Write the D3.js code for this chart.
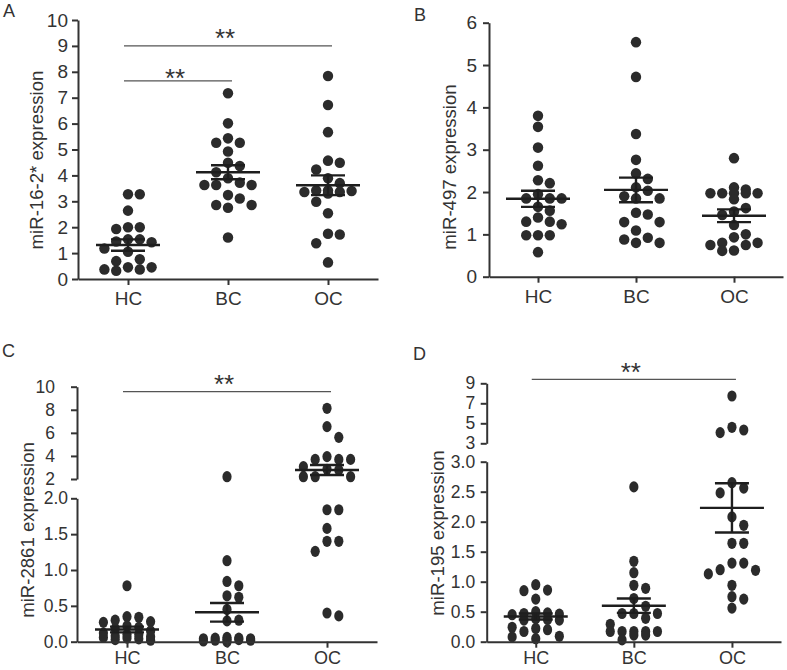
<!DOCTYPE html>
<html><head><meta charset="utf-8">
<script src="https://cdn.jsdelivr.net/npm/d3@7"></script>
<style>
body{margin:0;background:#fff}
text{font-family:"Liberation Sans",Arial,Helvetica,sans-serif}
</style>
</head><body>
<svg id="chart" width="787" height="670"></svg>
<script>
// ---------------- data ----------------
const groups = ["HC", "BC", "OC"];

// Panel A: miR-16-2*
const aHC = [3.27, 3.27, 2.64, 2.0, 2.0, 1.93, 1.53, 1.53, 1.45, 1.42, 1.18, 1.05, 0.76, 0.69, 0.45, 0.45, 0.37, 0.37, 0.32];
const aBC = [7.17, 6.01, 5.43, 5.26, 5.26, 4.92, 4.49, 4.36, 4.12, 3.89, 3.72, 3.63, 3.63, 3.63, 3.24, 3.11, 2.86, 2.86, 2.75, 1.60];
const aOC = [7.84, 6.72, 5.67, 4.57, 4.49, 4.23, 3.89, 3.70, 3.42, 3.42, 3.40, 3.36, 3.36, 3.30, 2.98, 2.54, 1.75, 1.72, 1.38, 0.64];
const aMean = [1.31, 4.12, 3.62];
const aSem = [0.22, 0.27, 0.38];
const aTicks = [0, 1, 2, 3, 4, 5, 6, 7, 8, 9, 10];
const aSig = [{from: "HC", to: "OC", level: 9.0, label: "**"}, {from: "HC", to: "BC", level: 7.65, label: "**"}];

// Panel B: miR-497
const bHC = [3.80, 3.54, 3.05, 2.62, 2.28, 2.21, 1.95, 1.85, 1.85, 1.85, 1.65, 1.56, 1.40, 1.30, 1.30, 1.24, 0.98, 0.98, 0.98, 0.58];
const bBC = [5.54, 4.72, 3.37, 2.76, 2.44, 2.31, 2.11, 2.03, 1.90, 1.85, 1.85, 1.51, 1.47, 1.29, 1.29, 1.09, 0.92, 0.88, 0.80, 0.80];
const bOC = [2.80, 2.11, 2.06, 1.97, 1.97, 1.97, 1.97, 1.97, 1.83, 1.62, 1.54, 1.46, 1.22, 1.00, 0.93, 0.80, 0.80, 0.75, 0.75, 0.62, 0.61];
const bMean = [1.84, 2.05, 1.44];
const bSem = [0.19, 0.29, 0.15];
const bTicks = [0, 1, 2, 3, 4, 5, 6];
const bSig = [];

// Panel C: miR-2861 (broken axis)
const cHC = [0.78, 0.35, 0.34, 0.30, 0.28, 0.27, 0.22, 0.20, 0.18, 0.15, 0.12, 0.10, 0.10, 0.08, 0.07, 0.06, 0.05, 0.04, 0.03, 0.02];
const cBC = [2.20, 1.13, 0.84, 0.78, 0.64, 0.62, 0.45, 0.30, 0.29, 0.06, 0.05, 0.05, 0.04, 0.04, 0.03, 0.03, 0.02, 0.02, 0.01, 0.0];
const cOC = [8.13, 6.54, 5.61, 3.94, 3.70, 3.70, 3.70, 3.07, 2.84, 2.78, 2.20, 2.20, 2.20, 1.84, 1.84, 1.58, 1.40, 1.40, 1.26, 0.40, 0.36];
const cMean = [0.17, 0.41, 2.78];
const cSem = [0.04, 0.13, 0.43];
const cLowerTicks = [0, 0.5, 1.0, 1.5, 2.0];
const cUpperTicks = [2, 4, 6, 8, 10];
const cSig = [{from: "HC", to: "OC", level: 9.57, label: "**"}];

// Panel D: miR-195 (broken axis)
const dHC = [0.95, 0.86, 0.85, 0.71, 0.50, 0.48, 0.47, 0.46, 0.45, 0.38, 0.37, 0.36, 0.36, 0.24, 0.22, 0.20, 0.17, 0.09, 0.08, 0.05];
const dBC = [2.58, 1.34, 1.15, 0.94, 0.89, 0.72, 0.59, 0.47, 0.47, 0.47, 0.39, 0.29, 0.17, 0.17, 0.17, 0.17, 0.17, 0.11, 0.11, 0.03];
const dOC = [7.73, 4.60, 4.33, 4.07, 2.65, 2.56, 2.48, 2.08, 1.94, 1.64, 1.64, 1.31, 1.31, 1.20, 1.19, 1.13, 0.94, 0.75, 0.71, 0.56];
const dMean = [0.42, 0.60, 2.23];
const dSem = [0.05, 0.12, 0.41];
const dLowerTicks = [0, 0.5, 1.0, 1.5, 2.0, 2.5, 3.0];
const dUpperTicks = [3, 5, 7, 9];
const dSig = [{from: "HC", to: "OC", level: 9.4, label: "**"}];

// ---------------- layout ----------------
const fmtInt = d3.format("d");
const fmt1 = d3.format(".1f");
const panels = [
  {letter: "A", title: "miR-16-2* expression", data: [aHC, aBC, aOC], mean: aMean, sem: aSem, sig: aSig,
   axisX: 78, xEnd: 378, baseY: 279, tickFont: 19, xFont: 19, xPad: 7,
   segs: [{domain: [0, 10], range: [279, 20], ticks: aTicks, fmt: fmtInt, pad: 4}],
   letterPos: [3, 17.3], titlePos: [36, 160], rx: 5.2, ry: 5.3, sigDy: [1, 6]},
  {letter: "B", title: "miR-497 expression", data: [bHC, bBC, bOC], mean: bMean, sem: bSem, sig: bSig,
   axisX: 489, xEnd: 783, baseY: 276.7, tickFont: 19, xFont: 19, xPad: 7,
   segs: [{domain: [0, 6], range: [276.7, 22.7], ticks: bTicks, fmt: fmtInt, pad: 6}],
   letterPos: [414, 20.7], titlePos: [449, 167], rx: 5.2, ry: 5.3, sigDy: []},
  {letter: "C", title: "miR-2861 expression", data: [cHC, cBC, cOC], mean: cMean, sem: cSem, sig: cSig,
   axisX: 77, xEnd: 377, baseY: 641.7, tickFont: 17.5, xFont: 18, xPad: 4,
   segs: [{domain: [0, 2], range: [641.7, 498.3], ticks: cLowerTicks, fmt: fmt1, pad: 3},
          {domain: [2, 10], range: [479, 386.7], ticks: cUpperTicks, fmt: fmtInt, pad: 16}],
   letterPos: [2, 357], titlePos: [27, 530], rx: 4.6, ry: 5.6, sigDy: [1.5]},
  {letter: "D", title: "miR-195 expression", data: [dHC, dBC, dOC], mean: dMean, sem: dSem, sig: dSig,
   axisX: 486.7, xEnd: 781, baseY: 641.7, tickFont: 17.5, xFont: 18, xPad: 4,
   segs: [{domain: [0, 3], range: [641.7, 461.7], ticks: dLowerTicks, fmt: fmt1, pad: 5.5},
          {domain: [3, 9], range: [443.3, 383.3], ticks: dUpperTicks, fmt: fmtInt, pad: 5.5}],
   letterPos: [413, 360], titlePos: [437, 533], rx: 4.6, ry: 5.6, sigDy: [1.5]}
];

const svg = d3.select("#chart");
const TEXT = "#333";
const INK = "#2b2b2b";
const COLS = [0, 1, -1, 2, -2];

panels.forEach(p => {
  const g = svg.append("g");
  const x = d3.scalePoint().domain(groups).range([p.axisX, p.xEnd]).padding(0.5);
  const scales = p.segs.map(s => d3.scaleLinear().domain(s.domain).range(s.range));
  const y = v => {
    for (let i = 0; i < p.segs.length; i++) {
      if (v <= p.segs[i].domain[1] || i === p.segs.length - 1) return scales[i](v);
    }
  };

  // beeswarm layout (computed, at most five columns)
  const step = 11.8, thresh = 2 * p.ry - 0.2;
  p.data.forEach((vals, gi) => {
    const placed = [];
    const sorted = vals.slice().sort((a, b) => b - a);
    const cx = x(groups[gi]);
    sorted.forEach(v => {
      const py = y(v);
      let best = null, bestGap = -1;
      for (const c of COLS) {
        const near = placed.filter(q => q.k === c).map(q => Math.abs(q.py - py));
        const gap = near.length ? d3.min(near) : Infinity;
        if (gap >= thresh) { best = c; break; }
        if (gap > bestGap + 0.5) { bestGap = gap; best = c; }
      }
      placed.push({k: best, py, v});
    });
    g.append("g").selectAll("ellipse").data(placed).join("ellipse")
      .attr("cx", d => cx + d.k * step)
      .attr("cy", d => d.py)
      .attr("rx", p.rx).attr("ry", p.ry)
      .attr("fill", INK);
  });

  // mean and SEM
  groups.forEach((grp, gi) => {
    const cx = x(grp), m = p.mean[gi], s = p.sem[gi];
    const lg = g.append("g").attr("stroke", "#1e1e1e").attr("stroke-width", 2.4);
    lg.append("line").attr("x1", cx - 32).attr("x2", cx + 32).attr("y1", y(m)).attr("y2", y(m));
    lg.append("line").attr("x1", cx - 17).attr("x2", cx + 17).attr("y1", y(m + s)).attr("y2", y(m + s));
    lg.append("line").attr("x1", cx - 17).attr("x2", cx + 17).attr("y1", y(m - s)).attr("y2", y(m - s));
    lg.append("line").attr("x1", cx).attr("x2", cx).attr("y1", y(m + s)).attr("y2", y(m - s));
  });

  // y axes (one per segment)
  p.segs.forEach((s, i) => {
    const ax = g.append("g").attr("transform", `translate(${p.axisX},0)`)
      .call(d3.axisLeft(scales[i]).tickValues(s.ticks).tickFormat(s.fmt).tickSize(6).tickSizeOuter(0).tickPadding(s.pad));
    ax.attr("color", "#333").attr("font-size", null).attr("font-family", null);
    ax.selectAll("path,line").attr("stroke-width", 2);
    ax.selectAll("text").attr("font-size", p.tickFont).attr("fill", TEXT);
  });

  // x axis
  const xa = g.append("g").attr("transform", `translate(0,${p.baseY})`)
    .call(d3.axisBottom(x).tickSize(6).tickSizeOuter(0).tickPadding(p.xPad));
  xa.attr("color", "#333").attr("font-size", null).attr("font-family", null);
  xa.selectAll("path,line").attr("stroke-width", 2);
  xa.selectAll("text").attr("font-size", p.xFont).attr("fill", TEXT);

  // significance bars
  p.sig.forEach((s, i) => {
    const ly = y(s.level);
    const x1 = x(s.from) - 4, x2 = x(s.to) + 4;
    g.append("line").attr("x1", x1).attr("x2", x2).attr("y1", ly).attr("y2", ly)
      .attr("stroke", "#555").attr("stroke-width", 1.3);
    g.append("text").attr("x", (x1 + x2) / 2 - 3).attr("y", ly + p.sigDy[i])
      .attr("text-anchor", "middle").attr("font-size", 26).attr("fill", TEXT).text(s.label);
  });

  // y title
  g.append("text")
    .attr("transform", `translate(${p.titlePos[0]},${p.titlePos[1]}) rotate(-90)`)
    .attr("text-anchor", "middle").attr("dominant-baseline", "central")
    .attr("font-size", 18.6).attr("fill", TEXT).text(p.title);

  // panel letter
  g.append("text").attr("x", p.letterPos[0]).attr("y", p.letterPos[1])
    .attr("font-size", 18).attr("fill", TEXT).text(p.letter);
});
</script>
</body></html>
